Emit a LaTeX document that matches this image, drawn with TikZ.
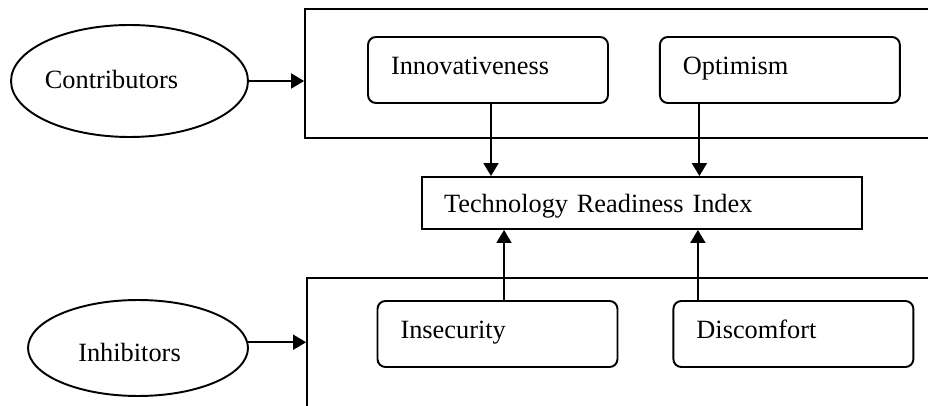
\documentclass[tikz,border=0pt]{standalone}
\usepackage{fontspec}
\setmainfont{Liberation Serif}
\usetikzlibrary{positioning,arrows.meta,shapes.geometric}

\begin{document}
\begin{tikzpicture}[
  x=0.02cm, y=0.02cm,
  node distance=1cm,
  font=\fontsize{15}{18}\selectfont,
  oval/.style={ellipse, draw=black, line width=1.1pt, inner sep=0pt},
  lbl/.style={inner sep=0pt},
  panel/.style={rectangle, draw=black, line width=1.1pt, inner sep=0pt},
  factor/.style={rectangle, draw=black, rounded corners=4.5pt, line width=1.1pt,
                 minimum height=1.32cm, text width=3.88cm, inner xsep=0.46cm,
                 text height=0.4cm, text depth=0.2cm, align=left},
  tribox/.style={rectangle, draw=black, line width=1.1pt,
                 minimum height=1.04cm, text width=7.92cm, inner xsep=0.44cm,
                 text height=0.45cm, text depth=0.05cm, align=left},
  arr/.style={-{Triangle[length=0.26cm, width=0.3cm]}, line width=1.1pt}]
  \clip (0,0) rectangle (928,405);
  % contributors side
  \node[panel, minimum width=13.1cm, minimum height=2.58cm] (toppanel) at (632.5,331.5) {};
  \node[oval, minimum width=4.74cm, minimum height=2.24cm] (contrib) at (129.5,324) {};
  \node[lbl] (contribtext) at ([shift={(-18,1.5)}]contrib.center) {Contributors};
  \node[factor] (innov) at (488,335) {Innovativeness};
  \node[factor, right=1cm of innov] (optim) {Optimism};
  % index
  \node[tribox] (tri) at (642,202) {Technology Readiness Index};
  % inhibitors side
  \node[panel, minimum width=13.06cm, minimum height=3.14cm] (botpanel) at (633.5,48.5) {};
  \node[oval, minimum width=4.4cm, minimum height=1.92cm] (inhib) at (138,57) {};
  \node[lbl] (inhibtext) at ([shift={(-8.5,-4.5)}]inhib.center) {Inhibitors};
  \node[factor] (insec) at (497.5,71) {Insecurity};
  \node[factor, right=1.08cm of insec] (discom) {Discomfort};
  % arrows
  \draw[arr] (contrib.east) -- (contrib.east -| toppanel.west);
  \draw[arr] (inhib.3) -- (inhib.3 -| botpanel.west);
  \draw[arr] ([xshift=0.06cm]innov.south) -- ([xshift=0.06cm]innov.south |- tri.north);
  \draw[arr] ([xshift=-1.61cm]optim.south) -- ([xshift=-1.61cm]optim.south |- tri.north);
  \draw[arr] ([xshift=0.13cm]insec.north) -- ([xshift=0.13cm]insec.north |- tri.south);
  \draw[arr] ([xshift=-1.91cm]discom.north) -- ([xshift=-1.91cm]discom.north |- tri.south);
\end{tikzpicture}
\end{document}
